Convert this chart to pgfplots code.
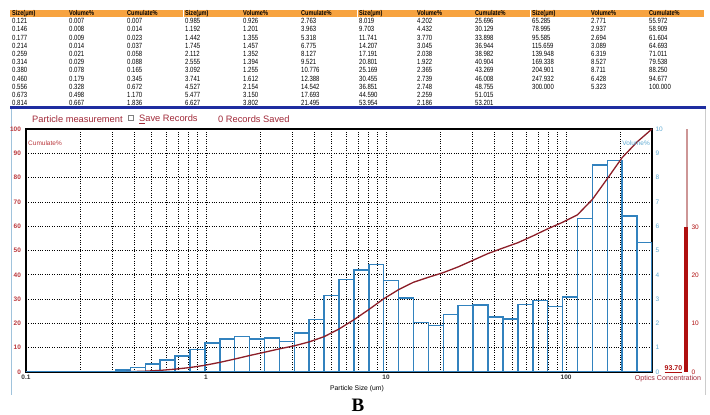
\documentclass[border=0pt]{standalone}
\usepackage{fontspec}
\setmainfont{Liberation Sans}
\newfontfamily\narrowfont[FakeStretch=0.8]{Liberation Sans}
\newfontfamily\serifb{Liberation Serif}
\usepackage{pgfplots}
\pgfplotsset{compat=1.18}
\definecolor{headorange}{RGB}{247,163,64}
\definecolor{lineblue}{RGB}{30,45,160}
\definecolor{titlered}{RGB}{160,40,55}
\definecolor{cumred}{RGB}{185,55,60}
\definecolor{volblue}{RGB}{95,170,210}
\definecolor{barblue}{RGB}{50,130,190}
\definecolor{curvecol}{RGB}{140,30,40}
\definecolor{optred}{RGB}{175,15,15}
\definecolor{palered}{RGB}{205,150,150}
\definecolor{framecol}{RGB}{160,195,220}
\newcommand\tcol[2]{\foreach \v [count=\i] in {#2} {\node[anchor=west, inner sep=0pt] at (#1pt, {(394-8.23*(\i-1))*1pt}) {\v};}}
\begin{document}
\begin{tikzpicture}
\path[use as bounding box] (0pt,0pt) rectangle (710pt,415pt);
% ---------- table ----------
\fill[headorange] (10pt,398pt) rectangle (704pt,405pt);
\foreach \xs in {183,357,530} {\draw[white, line width=0.8pt] (\xs pt,398pt) -- (\xs pt,405pt);}
\begin{scope}[font=\narrowfont\bfseries\fontsize{7}{8}\selectfont]
\foreach \xs in {12,185,359,532} {\node[anchor=west, inner sep=0pt] at (\xs pt,401.5pt) {Size(μm)};}
\foreach \xs in {69,243,417,591} {\node[anchor=west, inner sep=0pt] at (\xs pt,401.5pt) {Volume\%};}
\foreach \xs in {127,301,475,649} {\node[anchor=west, inner sep=0pt] at (\xs pt,401.5pt) {Cumulate\%};}
\end{scope}
\begin{scope}[font=\narrowfont\fontsize{7.5}{8}\selectfont]
\tcol{12}{0.121,0.146,0.177,0.214,0.259,0.314,0.380,0.460,0.556,0.673,0.814}
\tcol{69}{0.007,0.008,0.009,0.014,0.021,0.029,0.078,0.179,0.328,0.498,0.667}
\tcol{127}{0.007,0.014,0.023,0.037,0.058,0.088,0.165,0.345,0.672,1.170,1.836}
\tcol{185}{0.985,1.192,1.442,1.745,2.112,2.555,3.092,3.741,4.527,5.477,6.627}
\tcol{243}{0.926,1.201,1.355,1.457,1.352,1.394,1.255,1.612,2.154,3.150,3.802}
\tcol{301}{2.763,3.963,5.318,6.775,8.127,9.521,10.776,12.388,14.542,17.693,21.495}
\tcol{359}{8.019,9.703,11.741,14.207,17.191,20.801,25.169,30.455,36.851,44.590,53.954}
\tcol{417}{4.202,4.432,3.770,3.045,2.038,1.922,2.365,2.739,2.748,2.259,2.186}
\tcol{475}{25.696,30.129,33.898,36.944,38.982,40.904,43.269,46.008,48.755,51.015,53.201}
\tcol{532}{65.285,78.995,95.585,115.659,139.948,169.338,204.901,247.932,300.000}
\tcol{591}{2.771,2.937,2.694,3.089,6.319,8.527,8.711,6.428,5.323}
\tcol{649}{55.972,58.909,61.604,64.693,71.011,79.538,88.250,94.677,100.000}
\end{scope}
\draw[lineblue, line width=2.5pt] (10pt,307.5pt) -- (706pt,307.5pt);
% ---------- panel ----------
\draw[framecol, line width=0.8pt] (11pt,20pt) -- (11pt,306pt);
\draw[black!20, line width=0.6pt] (705pt,20pt) -- (705pt,306pt);
\node[anchor=west, inner sep=0pt, text=titlered, font=\fontsize{9.3}{11}\selectfont] at (32pt,296pt) {Particle measurement};
\draw[black!50, line width=0.6pt] (128.3pt,294.3pt) rectangle (133.3pt,300pt);
\node[anchor=west, inner sep=0pt, text=titlered, font=\fontsize{9.3}{11}\selectfont] at (139pt,296pt) {\underline{S}ave Records};
\node[anchor=west, inner sep=0pt, text=titlered, font=\fontsize{9.3}{11}\selectfont] at (218pt,296pt) {0 Records Saved};
% ---------- volume axis (bars) ----------
\begin{axis}[at={(26pt,43pt)}, anchor=south west, scale only axis, width=626pt, height=243pt,
  xmode=log, xmin=0.1, xmax=300, ymin=0, ymax=10,
  xtick={0.1,1,10,100}, xticklabels={0.1,1,10,100},
  minor xtick={0.2,0.3,0.4,0.5,0.6,0.7,0.8,0.9,2,3,4,5,6,7,8,9,20,30,40,50,60,70,80,90,200},
  ytick={0,1,...,10}, yticklabel pos=right,
  xmajorgrids, xminorgrids, ymajorgrids,
  major grid style={black, line width=0.75pt, dash pattern=on 0.75pt off 1.6pt},
  minor grid style={black, line width=0.75pt, dash pattern=on 0.75pt off 1.6pt},
  tick style={draw=none},
  axis line style={black, line width=1.2pt},
  xticklabel style={font=\bfseries\fontsize{6.5}{7}\selectfont, text=black!80, yshift=1pt},
  yticklabel style={font=\fontsize{6.5}{7}\selectfont, text=volblue},
  /pgf/number format/assume math mode=true]
\addplot[ybar interval, draw=barblue, fill=none, line width=1.5pt] coordinates {
(0.1,0.007)(0.121,0.008)(0.146,0.009)(0.177,0.014)(0.214,0.021)(0.259,0.029)(0.314,0.078)(0.380,0.179)(0.460,0.328)(0.556,0.498)(0.673,0.667)
(0.814,0.926)(0.985,1.201)(1.192,1.355)(1.442,1.457)(1.745,1.352)(2.112,1.394)(2.555,1.255)(3.092,1.612)(3.741,2.154)(4.527,3.150)(5.477,3.802)
(6.627,4.202)(8.019,4.432)(9.703,3.770)(11.741,3.045)(14.207,2.038)(17.191,1.922)(20.801,2.365)(25.169,2.739)(30.455,2.748)(36.851,2.259)(44.590,2.186)
(53.954,2.771)(65.285,2.937)(78.995,2.694)(95.585,3.089)(115.659,6.319)(139.948,8.527)(169.338,8.711)(204.901,6.428)(247.932,5.323)(300,0)};
\end{axis}
% ---------- cumulative axis ----------
\begin{axis}[at={(26pt,43pt)}, anchor=south west, scale only axis, width=626pt, height=243pt,
  xmode=log, xmin=0.1, xmax=300, ymin=0, ymax=100,
  xtick=\empty, ytick={0,10,...,100}, yticklabel pos=left,
  axis line style={draw=none}, tick style={draw=none},
  yticklabel style={font=\bfseries\fontsize{6.5}{7}\selectfont, text=cumred, xshift=-1.5pt},
  /pgf/number format/assume math mode=true]
\addplot[curvecol, line width=1.3pt, mark=none] coordinates {
(0.121,0.007)(0.146,0.014)(0.177,0.023)(0.214,0.037)(0.259,0.058)(0.314,0.088)(0.380,0.165)(0.460,0.345)(0.556,0.672)(0.673,1.170)(0.814,1.836)
(0.985,2.763)(1.192,3.963)(1.442,5.318)(1.745,6.775)(2.112,8.127)(2.555,9.521)(3.092,10.776)(3.741,12.388)(4.527,14.542)(5.477,17.693)(6.627,21.495)
(8.019,25.696)(9.703,30.129)(11.741,33.898)(14.207,36.944)(17.191,38.982)(20.801,40.904)(25.169,43.269)(30.455,46.008)(36.851,48.755)(44.590,51.015)(53.954,53.201)
(65.285,55.972)(78.995,58.909)(95.585,61.604)(115.659,64.693)(139.948,71.011)(169.338,79.538)(204.901,88.250)(247.932,94.677)(300,100)};
\draw[black, line width=2pt] (rel axis cs:0,0) -- (rel axis cs:0,1);
\draw[barblue, line width=2pt] (rel axis cs:0,0) -- (rel axis cs:1,0);
\end{axis}
% ---------- optics concentration ----------
\begin{axis}[at={(686pt,43pt)}, anchor=south, scale only axis, width=4pt, height=243pt,
  xmin=-1, xmax=1, ymin=0, ymax=50.3, xtick=\empty, ytick={0,10,20,30}, yticklabel pos=right,
  axis line style={draw=none}, tick style={draw=none}, clip=false,
  yticklabel style={font=\fontsize{6.5}{7}\selectfont, text=optred},
  /pgf/number format/assume math mode=true]
\draw[palered, line width=1.3pt] (axis cs:0.5,0) -- (axis cs:0.5,50.3);
\addplot[ybar, bar width=3.5pt, fill=optred, draw=none] coordinates {(0,30)};
\end{axis}
% ---------- labels ----------
\node[anchor=west, inner sep=0pt, text=cumred, font=\fontsize{6.5}{7}\selectfont] at (28pt,272pt) {Cumulate\%};
\node[anchor=east, inner sep=0pt, text=volblue, font=\fontsize{6.5}{7}\selectfont] at (650pt,272pt) {Volume\%};
\node[inner sep=0pt, font=\fontsize{6.8}{8}\selectfont] at (357pt,26pt) {Particle Size (um)};
\node[inner sep=0pt, text=optred, font=\bfseries\fontsize{7}{8}\selectfont] at (673.5pt,46pt) {\underline{93.70}};
\node[inner sep=0pt, text=titlered, font=\fontsize{7.1}{8}\selectfont] at (668pt,36pt) {Optics Concentration};
\node[anchor=base, inner sep=0pt, font=\serifb\bfseries\fontsize{19}{21}\selectfont] at (358pt,3pt) {B};
\end{tikzpicture}
\end{document}
